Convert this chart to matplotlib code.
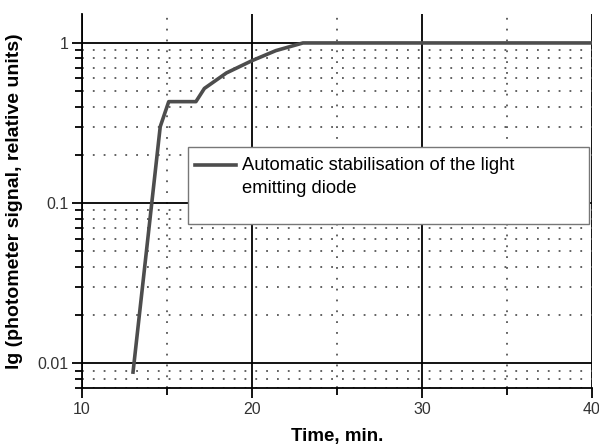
import matplotlib
matplotlib.use('Agg')
import matplotlib.pyplot as plt
from matplotlib.patches import Rectangle
from matplotlib.legend_handler import HandlerLine2D
from matplotlib.ticker import LogLocator, FixedLocator, NullFormatter, FixedFormatter

plt.rcParams['font.family'] = ['Liberation Sans', 'DejaVu Sans']

# data
time_min = [13.0, 14.6, 15.1, 16.7, 17.2, 18.5, 20.0, 21.4, 23.0, 40.0]
signal = [0.0088, 0.30, 0.43, 0.43, 0.52, 0.65, 0.775, 0.895, 1.0, 1.0]
series_label = 'Automatic stabilisation of the light\nemitting diode'
x_ticks = [10, 20, 30, 40]
x_minor = [15, 25, 35]
y_ticks = [0.01, 0.1, 1]
y_ticklabels = ['0.01', '0.1', '1']


class FirstLineHandler(HandlerLine2D):
    # keep the legend line level with the first text line, not the middle of both
    def create_artists(self, legend, orig_handle, xdescent, ydescent, width, height, fontsize, trans):
        artists = super().create_artists(legend, orig_handle, xdescent, ydescent, width, height,
                                         fontsize, trans)
        for a in artists:
            a.set_ydata([y + 8.5 for y in a.get_ydata()])
        return artists


fig = plt.figure(figsize=(5.99, 4.46), dpi=100)
ax = fig.add_axes([0.137, 0.130, 0.851, 0.839])

ax.set_yscale('log')
ax.set_xlim(10, 40)
ax.set_ylim(0.007, 1.52)

ax.xaxis.set_major_locator(FixedLocator(x_ticks))
ax.xaxis.set_minor_locator(FixedLocator(x_minor))
ax.yaxis.set_major_locator(FixedLocator(y_ticks))
ax.yaxis.set_major_formatter(FixedFormatter(y_ticklabels))
ax.yaxis.set_minor_locator(LogLocator(base=10, subs=range(2, 10)))
ax.yaxis.set_minor_formatter(NullFormatter())

ax.grid(which='major', color='black', linewidth=1.3, linestyle='-')
ax.grid(which='minor', color='#555555', linewidth=1.3, linestyle=(0, (1, 5)))
ax.set_axisbelow(True)

line, = ax.plot(time_min, signal, color='#4d4d4d', linewidth=2.6, label=series_label, zorder=3)

for s in ['top', 'right']:
    ax.spines[s].set_visible(False)
for s in ['left', 'bottom']:
    ax.spines[s].set_linewidth(1.3)

ax.tick_params(which='major', direction='out', length=7, width=1.3, labelsize=11.5,
               labelcolor='#333333', pad=3)
ax.tick_params(which='minor', direction='out', length=5, width=1.3)

ax.set_xlabel('Time, min.', fontsize=13.5, fontweight='bold', labelpad=8)
ax.set_ylabel('lg (photometer signal, relative units)', fontsize=14, fontweight='bold', labelpad=10)

# legend box drawn as a plain white rectangle, legend entry on top of it
box = Rectangle((0.208, 0.4385), 0.786, 0.2055, transform=ax.transAxes, facecolor='white',
                edgecolor='#777777', linewidth=1.0, zorder=4)
ax.add_patch(box)
leg = ax.legend(loc='upper left', bbox_to_anchor=(0.2216, 0.617), fontsize=13.25, frameon=False,
                handlelength=2.25, handletextpad=0.3, borderaxespad=0, borderpad=0,
                handler_map={line: FirstLineHandler()})
leg.set_zorder(5)
for t in leg.get_texts():
    t.set_linespacing(1.45)

fig.savefig('out.png', dpi=100)
